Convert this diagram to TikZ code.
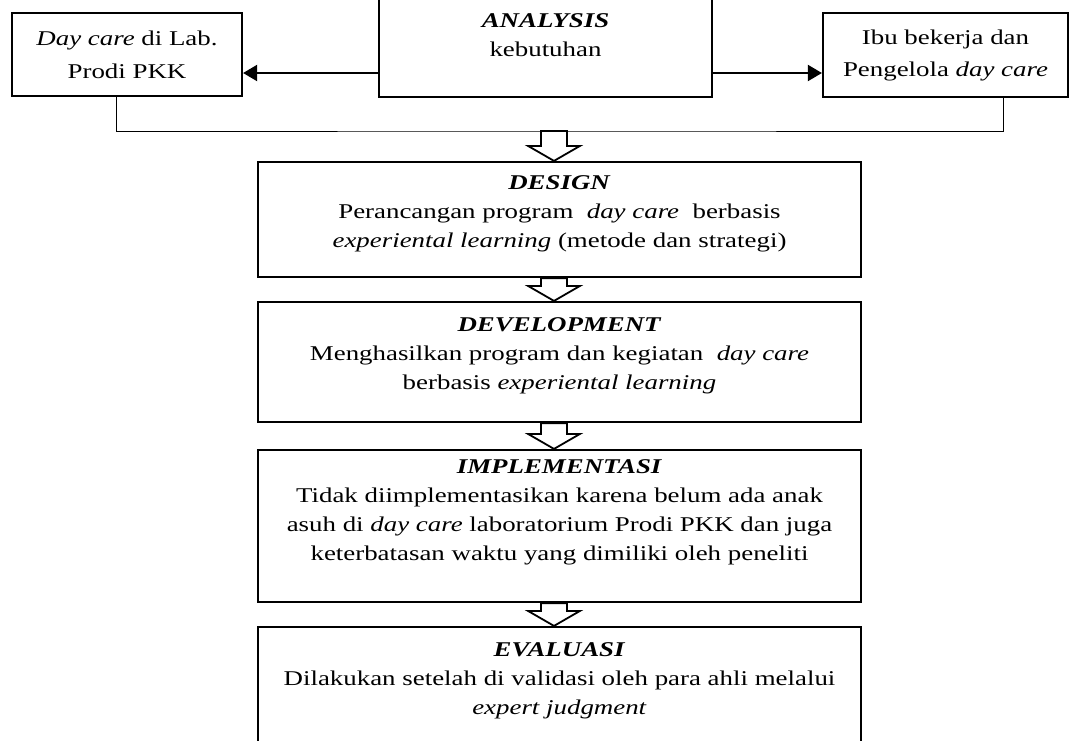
\documentclass[tikz,border=0pt]{standalone}
\usepackage{fontspec}
\setmainfont{Liberation Serif}[FakeStretch=1.28]
\usepackage{tikz}
\usetikzlibrary{arrows.meta, positioning, calc}

\tikzset{
  box/.style={draw, line width=2.2pt, inner sep=0pt, align=center},
  txt/.style={inner sep=0pt, align=center},
  thinline/.style={line width=1pt},
  sidearrow/.style={line width=2pt, -{Triangle[length=14pt,width=16pt]}},
  hollow/.style={draw, line width=1.8pt, fill=white, line join=miter}
}

% hollow block arrow from a coordinate down to the top of a box
\newcommand{\blockarrow}[2]{%
  \path[hollow] let \p1=(#1), \p2=($(#2.north)+(-5.5,0)$) in
    (\x2-13pt,\y1) -- (\x2+13pt,\y1) -- (\x2+13pt,\y2+15pt) -- (\x2+26pt,\y2+15pt)
    -- (\x2,\y2) -- (\x2-26pt,\y2+15pt) -- (\x2-13pt,\y2+15pt) -- cycle;}

\begin{document}
\begin{tikzpicture}[x=1pt, y=-1pt, font=\fontsize{21}{29}\selectfont]
    \useasboundingbox (0,0) rectangle (1070,740);
    \clip (0,0) rectangle (1070,740);

    % Top row
    \node[box, minimum width=333, minimum height=124] (analysis) at (545.5,35)
        {\textbf{\textit{ANALYSIS}}\\ kebutuhan};
    \node[box, minimum width=230, minimum height=83, font=\fontsize{21}{33}\selectfont] (lab) at (127,54.5)
        {\textit{Day care} di Lab.\\ Prodi PKK};
    \node[box, minimum width=245, minimum height=84, font=\fontsize{21}{32}\selectfont] (ibu) at (945.5,55)
        {Ibu bekerja dan\\ Pengelola \textit{day care}};

    \draw[sidearrow] (analysis.west |- 0,73) -- (lab.east |- 0,73);
    \draw[sidearrow] (analysis.east |- 0,73) -- (ibu.west |- 0,73);

    % Steps
    \node[box, minimum width=603, minimum height=115] (design) at (559.5,219.5) {};
    \node[txt, below=14pt of design.north]
        {\textbf{\textit{DESIGN}}\\ Perancangan program \ \textit{day care} \ berbasis\\ \textit{experiental learning} (metode dan strategi)};

    \node[box, minimum width=603, minimum height=120] (devel) at (559.5,362) {};
    \node[txt, below=16pt of devel.north]
        {\textbf{\textit{DEVELOPMENT}}\\ Menghasilkan program dan kegiatan \ \textit{day care}\\ berbasis \textit{experiental learning}};

    \node[box, minimum width=603, minimum height=152] (impl) at (559.5,526) {};
    \node[txt, below=10pt of impl.north]
        {\textbf{\textit{IMPLEMENTASI}}\\ Tidak diimplementasikan karena belum ada anak\\
         asuh di \textit{day care} laboratorium Prodi PKK dan juga\\ keterbatasan waktu yang dimiliki oleh peneliti};

    \node[box, minimum width=603, minimum height=123] (eval) at (559.5,688.5) {};
    \node[txt, below=16pt of eval.north]
        {\textbf{\textit{EVALUASI}}\\ Dilakukan setelah di validasi oleh para ahli melalui\\ \textit{expert judgment}};

    % Joining line and block arrows
    \coordinate (join) at (554,131);
    \draw[thinline] ($(lab.south)+(-11,0)$) |- (join) -| ($(ibu.south)+(57.5,0)$);

    \blockarrow{join}{design}
    \blockarrow{design.south}{devel}
    \blockarrow{devel.south}{impl}
    \blockarrow{impl.south}{eval}
\end{tikzpicture}
\end{document}
